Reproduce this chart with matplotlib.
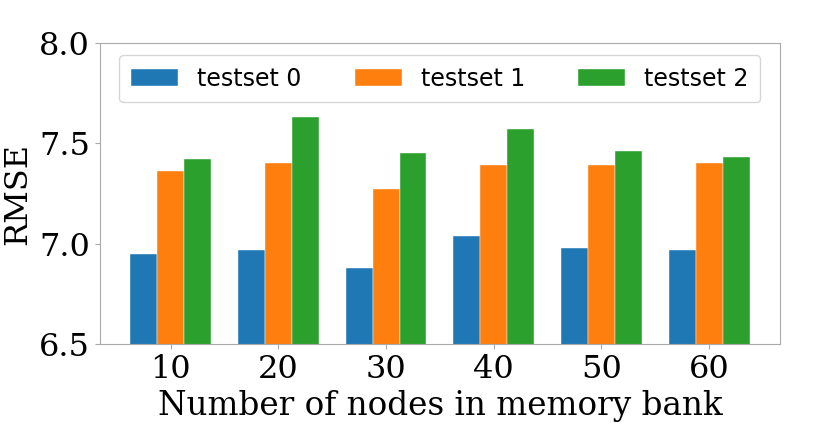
import numpy as np
import matplotlib
matplotlib.use("Agg")
import matplotlib.pyplot as plt

# Data
nodes = ["10", "20", "30", "40", "50", "60"]
testset0 = [6.95, 6.97, 6.88, 7.04, 6.98, 6.97]
testset1 = [7.36, 7.40, 7.27, 7.39, 7.39, 7.40]
testset2 = [7.42, 7.63, 7.45, 7.57, 7.46, 7.43]
labels = ["testset 0", "testset 1", "testset 2"]

fig, ax = plt.subplots(figsize=(8.3, 4.3), dpi=100)
fig.subplots_adjust(left=0.12, right=0.94, top=0.90, bottom=0.20)

x = np.arange(len(nodes))
w = 0.25
for i, (vals, lab) in enumerate(zip([testset0, testset1, testset2], labels)):
    ax.bar(x + (i - 1) * w, vals, w, label=lab, color="C%d" % i,
           edgecolor="white", linewidth=0.3)

ax.set_ylim(6.5, 8.0)
ax.set_yticks([6.5, 7.0, 7.5, 8.0])
ax.set_xlim(-0.66, 5.66)
ax.set_xticks(x)
ax.set_xticklabels(nodes)
for t in ax.get_xticklabels() + ax.get_yticklabels():
    t.set_family("DejaVu Serif")
    t.set_size(23)

ax.set_xlabel("Number of nodes in memory bank", fontsize=23.5, family="DejaVu Serif")
ax.set_ylabel("RMSE", fontsize=23, family="DejaVu Serif")

for s in ax.spines.values():
    s.set_color("#aaaaaa")
ax.tick_params(colors="#aaaaaa", labelcolor="black")

ax.legend(loc="upper center", ncol=3, fontsize=17, columnspacing=2.25,
          borderpad=0.5)

fig.savefig("out.png", dpi=100)
